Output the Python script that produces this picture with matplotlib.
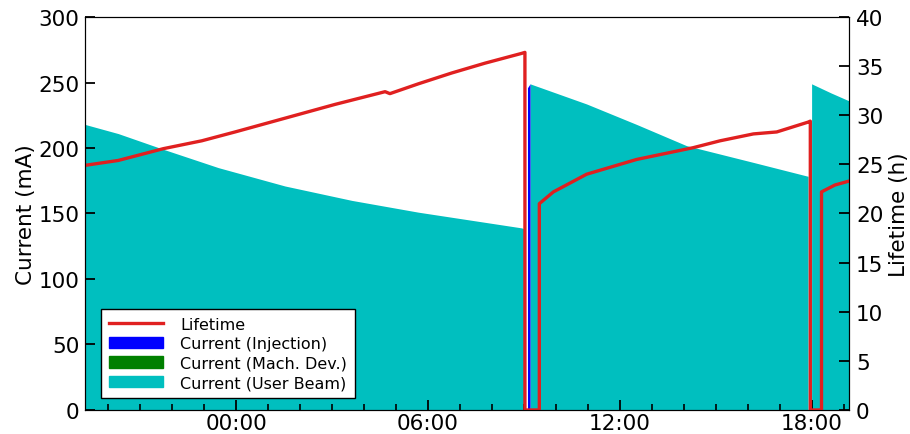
import matplotlib
matplotlib.use("Agg")
import matplotlib.pyplot as plt
from matplotlib.patches import Patch
from matplotlib.ticker import MultipleLocator, FuncFormatter

# beam current (user beam), hours relative to midnight
user1_t = [-4.72, -3.68, -2.27, -0.55, 1.53, 3.62, 5.70, 8.93, 9.03]
user1_i = [218, 211, 199, 185, 171, 160, 151, 139, 138]
user2_t = [9.19, 10.96, 12.52, 14.08, 16.17, 17.88]
user2_i = [249, 233.6, 218, 201.8, 189, 178.4]
user3_t = [17.99, 18.6, 19.16]
user3_i = [249, 242, 236]

# injection
inj_t = [9.11, 9.19]
inj_i = [246, 249]

# lifetime
life_t = [-4.72, -3.68, -2.27, -1.07, -0.03, 1.53, 3.09, 4.66, 4.81, 5.70, 6.74, 7.78, 8.93, 9.03,
          9.03, 9.48, 9.48, 9.92, 10.96, 12.52, 14.29, 15.13, 16.17, 16.9, 17.88, 17.95,
          17.95, 18.30, 18.30, 18.72, 19.16]
life_h = [24.9, 25.4, 26.6, 27.4, 28.3, 29.7, 31.1, 32.4, 32.2, 33.2, 34.3, 35.3, 36.3, 36.4,
          0, 0, 21.0, 22.2, 24.0, 25.5, 26.7, 27.4, 28.1, 28.3, 29.3, 29.4,
          0, 0, 22.2, 22.9, 23.3]

fig = plt.figure(figsize=(9.1, 4.35), dpi=100)
ax = fig.add_axes([0.0934, 0.0552, 0.8396, 0.9034])

ax.fill_between(user1_t, 0, user1_i, color='#00bfbf', lw=0)
ax.fill_between(user2_t, 0, user2_i, color='#00bfbf', lw=0)
ax.fill_between(user3_t, 0, user3_i, color='#00bfbf', lw=0)
ax.fill_between(inj_t, 0, inj_i, color='#0000ff', lw=0)

ax.set_xlim(-4.72, 19.16)
ax.set_ylim(0, 300)
ax.set_ylabel('Current (mA)', fontsize=15.5, labelpad=2)
ax.xaxis.set_major_locator(MultipleLocator(6))
ax.xaxis.set_minor_locator(MultipleLocator(1))
ax.xaxis.set_major_formatter(FuncFormatter(lambda v, p: '%02d:00' % (int(round(v)) % 24)))
ax.tick_params(axis='both', which='major', direction='in', length=7, width=1.3, labelsize=15.5, pad=4)
ax.tick_params(axis='x', which='major', pad=2)
ax.tick_params(axis='x', which='minor', direction='in', length=4, width=1.2)
ax.tick_params(axis='y', right=False)

ax2 = ax.twinx()
ax2.plot(life_t, life_h, color='#e02020', lw=2.4)
ax2.set_ylim(0, 40)
ax2.set_ylabel('Lifetime (h)', fontsize=15.5, labelpad=4)
ax2.tick_params(axis='y', direction='in', length=7, width=1.3, labelsize=15.5, pad=5)

handles = [
    plt.Line2D([], [], color='#e02020', lw=2.4),
    Patch(color='#0000ff'),
    Patch(color='#008000'),
    Patch(color='#00bfbf'),
]
labels = ['Lifetime', 'Current (Injection)', 'Current (Mach. Dev.)', 'Current (User Beam)']
leg = ax2.legend(handles, labels, loc='lower left', bbox_to_anchor=(0.01, 0.01), fontsize=11.5,
                 handlelength=3.4, handleheight=0.7, labelspacing=0.28, borderpad=0.5,
                 handletextpad=1.1, fancybox=False, framealpha=1, edgecolor='black')
leg.get_frame().set_linewidth(1.0)

fig.savefig('out.png', dpi=100)
